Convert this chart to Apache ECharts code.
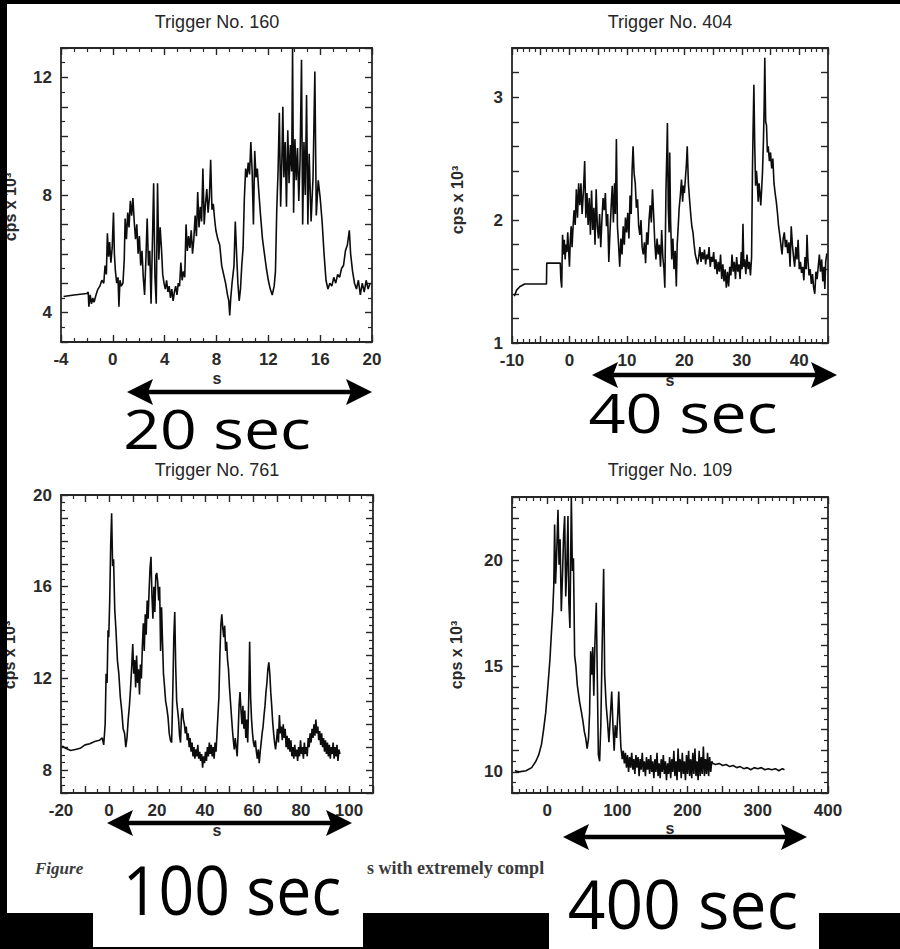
<!DOCTYPE html>
<html><head><meta charset="utf-8">
<script src="https://cdn.jsdelivr.net/npm/echarts@6/dist/echarts.min.js"></script>
<style>html,body{margin:0;padding:0;background:#fff}#c{width:900px;height:949px}</style>
</head><body><div id="c"></div>
<script>
// ---- Titles / labels ----
const titles = ['Trigger No. 160', 'Trigger No. 404', 'Trigger No. 761', 'Trigger No. 109'];
const yName = 'cps x 10\u00B3';
const xName = 's';
const spanLabels = ['20 sec', '40 sec', '100 sec', '400 sec'];
const captionLeft = 'Figure';
const captionRight = 's with extremely compl';

// ---- Trigger 160 (time s, counts x10^3) ----
const t160 = [-3.8,-3.0,-2.0,-1.9,-1.85,-1.75,-1.65,-1.55,-1.45,-1.3,-1.15,-1.0,-0.85,-0.7,-0.6,-0.5,-0.42,-0.33,-0.25,-0.15,-0.05,0.05,0.12,0.2,0.3,0.4,0.47,0.55,0.65,0.78,0.88,0.95,1.05,1.15,1.25,1.35,1.45,1.55,1.65,1.75,1.85,1.95,2.05,2.15,2.25,2.35,2.45,2.55,2.65,2.75,2.85,2.95,3.05,3.15,3.25,3.35,3.45,3.55,3.65,3.75,3.85,3.95,4.05,4.15,4.25,4.35,4.45,4.55,4.65,4.75,4.85,4.95,5.05,5.15,5.25,5.35,5.45,5.55,5.65,5.75,5.85,5.95,6.05,6.15,6.25,6.35,6.45,6.55,6.65,6.75,6.85,6.95,7.05,7.15,7.25,7.35,7.45,7.55,7.65,7.75,7.85,7.95,8.1,8.25,8.4,8.55,8.7,8.85,8.95,9.02,9.1,9.2,9.35,9.45,9.55,9.65,9.75,9.85,9.95,10.05,10.15,10.25,10.35,10.45,10.55,10.65,10.75,10.85,10.95,11.05,11.15,11.25,11.4,11.55,11.7,11.85,12.0,12.15,12.3,12.45,12.55,12.65,12.75,12.85,12.95,13.05,13.12,13.2,13.3,13.4,13.5,13.6,13.7,13.8,13.87,13.95,14.05,14.15,14.25,14.35,14.45,14.56,14.65,14.75,14.85,14.95,15.05,15.15,15.3,15.45,15.59,15.7,15.85,16.0,16.15,16.3,16.45,16.6,16.75,16.9,17.05,17.2,17.35,17.5,17.65,17.8,17.95,18.1,18.25,18.35,18.5,18.65,18.8,18.95,19.1,19.25,19.4,19.55,19.7,19.85];
const c160 = [4.55,4.6,4.65,4.7,4.2,4.6,4.3,4.5,4.35,4.6,4.8,4.9,5.1,5.0,5.6,5.3,6.7,5.9,6.4,5.7,6.2,7.4,6.0,5.4,5.0,5.2,4.2,5.1,4.9,5.0,5.8,7.2,6.5,7.4,6.9,7.8,7.3,7.9,7.1,6.5,7.0,6.0,6.6,5.6,6.1,5.2,4.6,5.8,7.2,5.6,6.1,4.3,6.3,8.4,5.2,4.3,8.4,5.8,6.9,6.2,5.3,5.0,4.8,5.1,4.7,4.9,4.5,4.8,4.4,4.7,4.9,4.6,5.0,4.9,5.7,5.1,5.4,5.2,7.0,6.1,6.6,6.2,6.8,6.0,6.5,7.3,6.6,8.1,6.9,7.6,7.1,8.9,7.0,7.7,8.2,7.4,7.9,9.2,7.5,7.7,7.2,6.8,6.5,6.3,5.6,5.3,5.0,4.6,4.4,3.9,4.5,5.0,5.6,7.1,6.0,5.0,4.4,4.8,5.6,6.2,7.9,8.9,8.6,9.1,8.7,9.8,8.8,7.0,9.5,8.6,8.9,8.2,7.3,6.5,6.0,5.5,5.1,4.8,4.6,4.9,5.4,7.5,8.8,10.8,7.6,9.3,11.0,8.6,9.8,7.6,10.2,8.4,9.7,8.8,13.0,7.4,9.9,8.5,9.6,7.8,9.2,12.6,7.0,9.8,8.0,11.4,7.0,9.4,7.1,8.6,12.2,7.3,8.5,7.9,7.1,6.0,5.1,4.8,5.0,4.9,5.2,5.0,5.3,5.2,5.5,5.6,6.1,6.3,6.8,6.0,5.4,5.0,4.8,5.1,4.6,5.0,4.7,5.1,4.8,5.0];

// ---- Trigger 404 ----
const t404 = [-9.6,-9.2,-8.6,-7.8,-4.0,-3.95,-1.6,-1.5,-1.35,-1.2,-1.05,-0.9,-0.75,-0.6,-0.45,-0.3,-0.15,0.0,0.15,0.3,0.45,0.6,0.8,1.0,1.2,1.4,1.6,1.8,2.0,2.2,2.45,2.65,2.85,3.05,3.25,3.45,3.65,3.85,4.05,4.25,4.45,4.65,4.85,5.05,5.25,5.45,5.65,5.85,6.05,6.25,6.45,6.65,6.85,7.05,7.25,7.45,7.65,7.85,8.0,8.17,8.35,8.55,8.75,8.95,9.15,9.35,9.55,9.75,9.95,10.15,10.35,10.55,10.75,10.9,11.07,11.25,11.45,11.65,11.85,12.05,12.25,12.45,12.65,12.85,13.05,13.25,13.45,13.65,13.85,14.05,14.25,14.45,14.65,14.85,15.05,15.25,15.45,15.65,15.85,16.05,16.25,16.45,16.6,16.8,16.95,17.05,17.2,17.35,17.45,17.6,17.8,18.0,18.2,18.4,18.6,18.75,18.9,19.1,19.3,19.5,19.7,19.85,20.0,20.2,20.35,20.5,20.7,20.9,21.1,21.3,21.5,21.7,21.9,22.1,22.3,22.5,22.7,22.9,23.1,23.3,23.5,23.7,23.9,24.1,24.3,24.5,24.7,24.9,25.1,25.3,25.5,25.7,25.9,26.1,26.3,26.5,26.7,26.9,27.1,27.3,27.5,27.7,27.9,28.1,28.3,28.5,28.7,28.9,29.1,29.3,29.5,29.7,29.9,30.05,30.2,30.35,30.5,30.7,30.9,31.1,31.3,31.5,31.7,31.85,31.95,32.1,32.25,32.4,32.55,32.7,32.85,33.0,33.15,33.3,33.45,33.6,33.75,33.88,34.0,34.15,34.3,34.45,34.6,34.8,35.0,35.2,35.4,35.6,35.8,36.0,36.2,36.4,36.6,36.8,37.0,37.2,37.4,37.6,37.8,38.0,38.2,38.4,38.6,38.8,39.0,39.2,39.4,39.6,39.8,40.0,40.2,40.4,40.6,40.8,41.0,41.2,41.35,41.5,41.7,41.9,42.1,42.3,42.5,42.7,42.9,43.1,43.3,43.5,43.7,43.9,44.1,44.3,44.45,44.6,44.8];
const c404 = [1.38,1.43,1.46,1.48,1.48,1.65,1.65,1.52,1.45,1.88,1.72,1.84,1.68,1.80,1.74,1.90,1.76,1.62,1.84,1.95,1.78,1.92,2.08,1.96,2.25,2.02,2.30,2.12,2.30,2.05,2.25,2.48,2.02,2.22,1.96,2.18,1.88,2.24,1.92,2.10,1.80,2.25,1.95,1.85,2.05,1.78,2.00,2.18,2.08,2.22,1.95,2.05,1.66,1.90,2.10,2.28,1.98,2.30,2.05,2.66,1.95,1.80,1.62,1.85,1.72,1.95,1.80,2.02,1.90,2.06,1.85,2.20,2.05,2.40,2.60,2.38,2.30,2.10,2.17,1.95,1.88,2.00,1.78,1.72,1.82,1.65,1.90,1.80,2.00,2.12,1.98,2.25,2.05,1.82,1.68,1.85,1.72,1.80,1.62,1.92,1.70,1.60,1.45,2.25,2.55,2.79,2.10,1.90,2.55,2.00,1.68,1.85,1.60,1.75,1.46,1.80,1.92,2.10,2.20,2.33,2.15,2.28,2.22,2.35,2.45,2.60,2.30,2.17,2.05,1.95,1.90,1.80,1.72,1.68,1.64,1.70,1.78,1.66,1.74,1.68,1.76,1.64,1.72,1.68,1.78,1.62,1.70,1.66,1.74,1.60,1.68,1.56,1.66,1.58,1.72,1.52,1.64,1.50,1.60,1.45,1.58,1.46,1.62,1.55,1.72,1.58,1.66,1.52,1.70,1.58,1.64,1.52,1.74,1.60,1.97,1.62,1.68,1.56,1.72,1.60,1.66,1.55,1.70,2.40,2.70,3.10,2.60,2.28,2.40,2.30,2.15,2.30,2.22,2.12,2.25,2.39,2.62,2.90,3.32,2.80,2.77,2.55,2.60,2.48,2.55,2.42,2.50,2.30,2.22,2.15,2.06,1.95,1.88,1.80,1.72,1.85,1.90,1.78,1.84,1.73,1.82,1.62,1.95,1.80,1.70,1.62,1.78,1.68,1.84,1.60,1.66,1.57,1.62,1.51,1.70,1.60,1.88,1.68,1.55,1.60,1.48,1.56,1.45,1.40,1.58,1.52,1.62,1.72,1.58,1.68,1.50,1.62,1.44,1.66,1.73];

// ---- Trigger 761 ----
const t761 = [-19.5,-18,-16,-14,-12,-10,-8,-6,-4,-2.8,-2.2,-1.6,-1.2,-0.8,-0.4,-0.1,0.3,0.7,1.1,1.5,1.9,2.4,2.9,3.5,4.1,4.7,5.3,5.9,6.5,7.0,7.5,8.0,8.5,9.0,9.5,9.9,10.3,10.7,11.1,11.5,11.9,12.3,12.7,13.1,13.5,13.9,14.3,14.7,15.1,15.5,15.9,16.3,16.7,17.1,17.5,17.9,18.3,18.7,19.1,19.5,19.9,20.3,20.7,21.1,21.5,21.9,22.3,22.7,23.1,23.6,24.1,24.6,25.1,25.6,26.1,26.6,27.0,27.4,27.8,28.2,28.6,29.0,29.4,29.8,30.2,30.6,31.0,31.4,31.8,32.2,32.6,33.0,33.4,33.8,34.2,34.6,35.0,35.4,35.8,36.2,36.6,37.0,37.4,37.8,38.2,38.6,39.0,39.4,39.8,40.2,40.6,41.0,41.4,41.8,42.2,42.6,43.0,43.4,43.8,44.2,44.6,45.0,45.4,45.8,46.2,46.6,47.0,47.4,47.8,48.2,48.6,49.0,49.4,49.8,50.2,50.6,51.0,51.4,51.8,52.2,52.6,53.0,53.4,53.8,54.2,54.6,55.0,55.4,55.8,56.2,56.6,57.0,57.4,57.8,58.2,58.6,59.0,59.4,59.8,60.2,60.6,61.0,61.4,61.8,62.2,62.6,63.0,63.4,63.8,64.2,64.6,65.0,65.4,65.8,66.2,66.6,67.0,67.4,67.8,68.2,68.6,69.0,69.4,69.8,70.2,70.6,71.0,71.4,71.8,72.2,72.6,73.0,73.4,73.8,74.2,74.6,75.0,75.4,75.8,76.2,76.6,77.0,77.4,77.8,78.2,78.6,79.0,79.4,79.8,80.2,80.6,81.0,81.4,81.8,82.2,82.6,83.0,83.4,83.8,84.2,84.6,85.0,85.4,85.8,86.2,86.6,87.0,87.4,87.8,88.2,88.6,89.0,89.4,89.8,90.2,90.6,91.0,91.4,91.8,92.2,92.6,93.0,93.4,93.8,94.2,94.6,95.0,95.4,95.8,96.2];
const c761 = [9.05,8.95,8.85,8.9,8.95,9.1,9.15,9.25,9.3,9.4,9.1,10.0,12.2,11.8,14.1,13.8,15.4,17.8,19.2,16.9,17.2,15.0,14.1,12.8,12.2,11.2,10.6,9.8,9.6,9.0,9.4,10.2,10.8,11.6,12.6,13.5,12.2,12.8,11.6,13.0,11.8,12.4,11.3,12.6,12.0,13.4,14.4,13.2,14.8,13.9,15.4,14.6,15.8,16.8,17.3,15.6,14.6,16.0,14.9,16.5,16.6,16.2,15.4,16.0,13.2,15.1,13.6,12.2,11.7,11.0,10.7,10.3,9.6,9.3,9.2,11.5,13.8,14.9,12.5,11.0,10.6,10.2,9.5,9.2,10.4,10.7,10.2,10.0,9.6,9.9,9.3,9.6,9.0,9.4,8.8,9.2,8.6,9.0,8.5,8.9,8.6,9.1,8.5,8.8,8.4,8.7,8.1,8.6,8.3,8.8,8.4,9.0,8.6,9.2,8.7,9.1,8.6,9.0,8.5,9.2,8.8,9.6,10.4,11.2,13.0,14.3,14.8,14.2,13.8,14.3,13.2,13.6,12.8,12.4,11.6,11.0,10.4,9.8,9.3,8.9,9.4,9.0,8.6,9.6,10.8,11.4,10.6,10.0,10.8,9.8,10.6,9.4,10.2,9.2,11.0,13.6,11.2,10.2,9.6,9.2,9.0,9.3,8.8,8.5,8.9,8.3,8.8,9.2,9.6,9.9,10.4,10.8,11.4,11.8,12.4,12.7,12.2,11.4,10.8,10.1,9.6,9.2,8.9,9.3,9.8,9.2,10.4,9.6,9.9,9.3,10.0,9.4,9.8,9.0,9.5,8.9,9.4,8.8,9.3,8.6,9.0,8.5,9.1,8.6,8.9,8.4,9.0,8.6,9.3,8.7,9.0,8.5,9.2,8.7,9.0,8.6,9.4,9.0,9.6,9.2,9.8,9.4,10.0,9.5,10.2,9.6,9.9,9.3,9.7,9.1,9.6,9.0,9.4,8.8,9.3,8.7,9.2,8.6,9.1,8.5,9.0,8.7,9.2,8.5,9.0,8.6,9.1,8.4,8.9,8.7];

// ---- Trigger 109 ----
const t109 = [-46,-40,-30,-22,-16,-12,-8,-5,-2,1,4,6,8,9.5,10.7,12,13.5,15.5,17,18.5,20.2,22,23.5,25,26.5,28,29.7,31,32.5,34.5,36,37.5,39.2,41,43,46.3,49,51,53,55,57,59,60.5,62,63.5,65,66.5,68,70,71.5,73,74.8,76.5,78,80.5,82,84,86,88,90,92,94,95.5,97,99,101,102,103.5,105,107,108.5,110,111.5,113,114.5,116,117.5,119,120.5,122,123.5,125,126.5,128,129.5,131,132.5,134,135.5,137,138.5,140,141.5,143,144.5,146,147.5,149,150.5,152,153.5,155,156.5,158,159.5,161,162.5,164,165.5,167,168.5,170,171.5,173,174.5,176,177.5,179,180.5,182,183.5,185,186.5,188,189.5,191,192.5,194,195.5,197,198.5,200,201.5,203,204.5,206,207.5,209,210.5,212,213.5,215,216.5,218,219.5,221,222.5,224,225.5,227,228.5,230,231.5,233,234.5,236,240,245,250,255,260,265,270,275,280,285,290,295,300,305,310,315,320,325,330,335,338];
const c109 = [10.05,10.0,10.05,10.2,10.5,10.8,11.3,12.0,12.8,14.0,15.3,16.5,17.6,18.8,21.7,18.9,20.2,22.4,19.8,21.0,17.6,19.4,21.2,22.1,18.3,19.6,22.1,18.0,16.8,23.0,19.5,20.1,15.5,15.0,14.1,13.3,12.8,12.4,11.9,11.6,11.1,11.6,12.8,15.7,14.6,15.9,13.6,16.0,18.0,14.4,10.8,10.5,12.2,15.2,19.6,14.6,13.2,12.4,11.4,12.6,13.8,12.0,11.0,12.2,11.6,13.0,13.8,12.4,11.2,10.6,11.0,10.4,10.9,10.2,10.8,10.0,10.7,10.2,10.9,10.1,10.6,9.9,10.8,10.2,10.7,9.8,10.6,10.1,10.9,10.0,10.5,9.8,10.7,10.1,10.6,9.9,10.8,10.0,10.5,9.7,10.6,10.0,10.9,9.8,10.4,9.7,10.6,10.0,10.8,9.9,10.5,9.6,10.4,9.9,10.7,9.7,10.6,10.0,11.0,9.8,10.5,9.6,11.1,10.0,10.6,9.7,10.9,9.9,10.5,9.6,10.8,9.9,11.0,9.8,10.6,9.7,10.9,9.9,11.1,9.8,10.5,9.6,11.0,9.8,10.7,9.9,11.2,9.8,10.6,9.9,10.9,9.8,10.7,10.0,10.5,10.4,10.35,10.4,10.3,10.35,10.25,10.3,10.2,10.25,10.15,10.2,10.1,10.2,10.15,10.2,10.1,10.15,10.1,10.15,10.05,10.15,10.1];

const seriesX = [t160, t404, t761, t109];
const seriesY = [c160, c404, c761, c109];

// ---- Layout (positions / styles) ----
const grids = [
  {left: 61, top: 48, width: 311, height: 294},
  {left: 512, top: 48, width: 316, height: 295},
  {left: 61, top: 495, width: 312, height: 298},
  {left: 512, top: 497, width: 316, height: 296}
];
const xCfg = [
  {min: -4, max: 20, interval: 4, minor: 4, lab: v => String(v)},
  {min: -10, max: 45, interval: 5, minor: 5, lab: v => (v % 10 === 0 ? String(v) : '')},
  {min: -20, max: 110, interval: 10, minor: 2, lab: v => (v % 20 === 0 ? String(v) : '')},
  {min: -50, max: 400, interval: 50, minor: 5, lab: v => (v >= 0 && v % 100 === 0 ? String(v) : '')}
];
const isInt = v => Math.abs(v - Math.round(v)) < 1e-6;
const yCfg = [
  {min: 3, max: 13, interval: 1, minor: 2, lab: v => (isInt(v) && Math.round(v) % 4 === 0 ? String(Math.round(v)) : '')},
  {min: 1, max: 3.4, interval: 0.2, minor: 0, lab: v => (isInt(v) ? String(Math.round(v)) : '')},
  {min: 7, max: 20, interval: 1, minor: 3, lab: v => (isInt(v) && Math.round(v) % 4 === 0 ? String(Math.round(v)) : '')},
  {min: 9, max: 23, interval: 1, minor: 2, lab: v => (isInt(v) && Math.round(v) % 5 === 0 ? String(Math.round(v)) : '')}
];

const AX = '#262626';
const labelStyle = {color: '#2a2a2a', fontSize: 17, fontWeight: 'bold', fontFamily: 'Liberation Sans'};
function axisBase(c, show, pos) {
  return {
    type: 'value', min: c.min, max: c.max, interval: c.interval, position: pos,
    axisLine: {show: true, onZero: false, lineStyle: {color: AX, width: 1.8}},
    axisTick: {show: true, inside: true, length: 7, lineStyle: {color: AX, width: 1.4}},
    minorTick: {show: c.minor > 0, splitNumber: c.minor || 5, length: 4, lineStyle: {color: AX, width: 1.2}},
    splitLine: {show: false}, minorSplitLine: {show: false},
    axisLabel: Object.assign({show: show, margin: 9, formatter: c.lab, showMinLabel: true, showMaxLabel: true}, labelStyle)
  };
}

const xAxis = [], yAxis = [], series = [];
grids.forEach((g, i) => {
  xAxis.push(Object.assign(axisBase(xCfg[i], true, 'bottom'), {gridIndex: i}));
  xAxis.push(Object.assign(axisBase(xCfg[i], false, 'top'), {gridIndex: i}));
  yAxis.push(Object.assign(axisBase(yCfg[i], true, 'left'), {gridIndex: i}));
  yAxis.push(Object.assign(axisBase(yCfg[i], false, 'right'), {gridIndex: i}));
  series.push({
    type: 'line', xAxisIndex: 2 * i, yAxisIndex: 2 * i, showSymbol: false, silent: true,
    data: seriesX[i].map((t, k) => [t, seriesY[i][k]]),
    lineStyle: {color: '#0c0c0c', width: 1.6}, clip: true, z: 3
  });
});

// ---- Annotations (graphic) ----
const titlePos = [[217, 22], [670, 22], [217, 470], [670, 470]];
const yNamePos = [[10, 207], [457, 200], [9, 655], [456, 655]];
const xNamePos = [[217, 378], [670, 380], [217, 830], [670, 828]];
const arrows = [[127, 372, 392], [592, 837, 375], [107, 352, 823], [563, 807, 837]];
const bigPos = [[217, 428, 54, 1.19], [683, 412, 54, 1.2], [232, 888, 68, 0.92], [683, 903, 68, 0.97]];

const graphic = [];
titles.forEach((t, i) => graphic.push({type: 'text', x: titlePos[i][0], y: titlePos[i][1], z: 10,
  style: {text: t, fill: '#262626', font: '18px "Liberation Sans"', align: 'center', verticalAlign: 'middle'}}));
yNamePos.forEach(p => graphic.push({type: 'text', x: p[0], y: p[1], rotation: Math.PI / 2, z: 10,
  style: {text: yName, fill: '#2a2a2a', font: 'bold 16px "Liberation Sans"', align: 'center', verticalAlign: 'middle'}}));
xNamePos.forEach(p => graphic.push({type: 'text', x: p[0], y: p[1], z: 10,
  style: {text: xName, fill: '#2a2a2a', font: 'bold 16px "Liberation Sans"', align: 'center', verticalAlign: 'middle'}}));
// caption
graphic.push({type: 'text', x: 35, y: 868, z: 10, style: {text: captionLeft, fill: '#3a3a3a', font: 'italic bold 17px "Liberation Serif"', align: 'left', verticalAlign: 'middle'}});
graphic.push({type: 'text', x: 367, y: 868, z: 10, style: {text: captionRight, fill: '#3a3a3a', font: 'bold 18px "Liberation Serif"', align: 'left', verticalAlign: 'middle'}});
// black frame bands
graphic.push({type: 'rect', z: 20, shape: {x: 0, y: 0, width: 900, height: 4}, style: {fill: '#000'}});
graphic.push({type: 'rect', z: 20, shape: {x: 0, y: 0, width: 7, height: 949}, style: {fill: '#000'}});
graphic.push({type: 'rect', z: 20, shape: {x: 0, y: 913, width: 900, height: 36}, style: {fill: '#000'}});
graphic.push({type: 'rect', z: 21, shape: {x: 93, y: 850, width: 270, height: 97}, style: {fill: '#fff'}});
graphic.push({type: 'rect', z: 21, shape: {x: 549, y: 850, width: 270, height: 99}, style: {fill: '#fff'}});
// arrows
arrows.forEach(a => {
  const [x0, x1, y] = a, L = 26, H = 13, N = 5;
  graphic.push({type: 'line', z: 22, shape: {x1: x0 + 10, y1: y, x2: x1 - 10, y2: y}, style: {stroke: '#000', lineWidth: 4.5}});
  graphic.push({type: 'polygon', z: 22, shape: {points: [[x0, y], [x0 + L, y - H], [x0 + L - N, y], [x0 + L, y + H]]}, style: {fill: '#000'}});
  graphic.push({type: 'polygon', z: 22, shape: {points: [[x1, y], [x1 - L, y - H], [x1 - L + N, y], [x1 - L, y + H]]}, style: {fill: '#000'}});
});
// big span labels
spanLabels.forEach((s, i) => {
  const [x, y, fs, sx] = bigPos[i];
  graphic.push({type: 'text', x: x, y: y, scaleX: sx, z: 23,
    style: {text: s, fill: '#000', font: fs + 'px "Open Sans"', align: 'center', verticalAlign: 'middle'}});
});

const chart = echarts.init(document.getElementById('c'), null, {renderer: 'svg', width: 900, height: 949});
chart.setOption({
  animation: false,
  backgroundColor: '#fff',
  grid: grids.map(g => Object.assign({containLabel: false, outerBoundsMode: 'none'}, g)),
  xAxis: xAxis,
  yAxis: yAxis,
  series: series,
  graphic: graphic
});
</script></body></html>
